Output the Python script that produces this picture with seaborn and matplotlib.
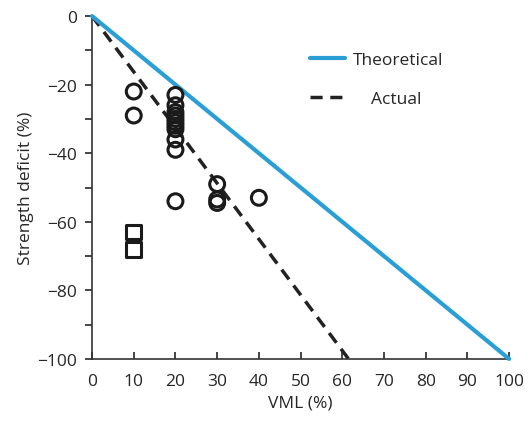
import numpy as np
import pandas as pd
import matplotlib
matplotlib.use("Agg")
import matplotlib.pyplot as plt
import seaborn as sns

# data
theory_x = [0, 100]
theory_y = [0, -100]
actual_x = [0, 61.5]
actual_y = [0, -100]

circle_x = [10, 10, 20, 20, 20, 20, 20, 20, 20, 20, 20, 20, 20, 30, 30, 30, 40]
circle_y = [-22, -29, -23, -26, -28, -29, -30, -31, -32, -33, -36, -39, -54,
            -49, -53.5, -54.5, -53]
square_x = [10, 10]
square_y = [-63, -68]

sns.set_theme(style="ticks")
plt.rcParams['font.family'] = ['Open Sans', 'DejaVu Sans']

fig = plt.figure(figsize=(5.32, 4.27), dpi=100)
ax = fig.add_axes([0.173, 0.157, 0.784, 0.803])

sns.lineplot(x=theory_x, y=theory_y, ax=ax, color='#2a9fd6', lw=3,
             label='Theoretical', clip_on=False, zorder=3)
sns.lineplot(x=actual_x, y=actual_y, ax=ax, color='#222222', lw=2.5,
             label='Actual', zorder=2)
ax.lines[-1].set_dashes((3.5, 2.2))

sns.scatterplot(x=circle_x, y=circle_y, ax=ax, marker='o', s=115,
                facecolors='none', edgecolor='#1a1a1a', linewidth=2.2,
                zorder=4, legend=False)
sns.scatterplot(x=square_x, y=square_y, ax=ax, marker='s', s=110,
                facecolors='none', edgecolor='#1a1a1a', linewidth=2.2,
                zorder=4, legend=False)

ax.set_xlim(0, 100)
ax.set_ylim(-100, 0)
ax.set_xticks(np.arange(0, 101, 10))
ax.set_yticks(np.arange(-100, 1, 20))
ax.set_yticks(np.arange(-90, 0, 20), minor=True)
ax.set_yticklabels(['\u2212100', '\u221280', '\u221260', '\u221240', '\u221220', '0'])
ax.tick_params(axis='x', direction='in', length=5, width=1.2, labelsize=12.5, pad=10)
ax.tick_params(axis='y', which='both', direction='out', length=5, width=1.2,
               labelsize=12.5, pad=6)
sns.despine(ax=ax)
for s in ['left', 'bottom']:
    ax.spines[s].set_color('#333333')
    ax.spines[s].set_linewidth(1.2)

ax.set_xlabel('VML (%)', fontsize=12.5, labelpad=4)
ax.set_ylabel('Strength deficit (%)', fontsize=12.5, labelpad=2)

leg = ax.legend(loc='upper left', bbox_to_anchor=(0.485, 0.94), frameon=False,
                fontsize=12.5, handlelength=2.0, labelspacing=1.3, handletextpad=0.5)
leg.get_texts()[1].set_text('    Actual')

fig.savefig('out.png', dpi=100)
